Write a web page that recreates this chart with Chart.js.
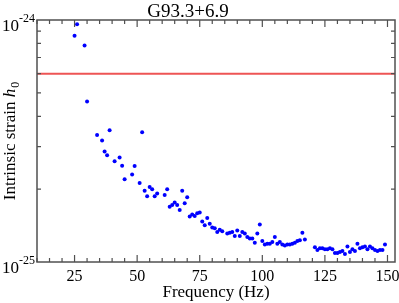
<!DOCTYPE html>
<html>
<head>
<meta charset="utf-8">
<script src="https://cdn.jsdelivr.net/npm/chart.js@4/dist/chart.umd.min.js"></script>
<style>
  html, body { margin: 0; padding: 0; background: #fff; }
  canvas { display: block; }
</style>
</head>
<body>
<canvas id="chart" width="399" height="303"></canvas>
<script>
// Frequencies (Hz) of the search bands
const freqs = [
  25, 26, 29, 30, 34, 36, 37, 38, 39, 41, 43, 44, 45, 48, 49, 51, 52, 53, 54, 55,
  56, 57, 58, 61, 62, 63, 64, 65, 66, 67, 68, 69, 70, 71, 72, 73, 74, 75, 76, 77,
  78, 79, 80, 81, 82, 83, 84, 86, 87, 88, 89, 90, 91, 92, 93, 94, 95, 96, 97, 98,
  99, 100, 101, 102, 103, 104, 105, 106, 107, 108, 109, 110, 111, 112, 113, 114, 115, 116, 117, 121,
  122, 123, 124, 125, 126, 127, 128, 129, 130, 131, 132, 133, 134, 135, 136, 137, 138, 139, 140, 141,
  142, 143, 144, 145, 146, 147, 148, 149
];

// Strain upper limits, in units of 1e-25
const strainE25 = [
  8.61, 9.60, 7.85, 4.61, 3.35, 3.18, 2.86, 2.76, 3.50, 2.61, 2.70, 2.50, 2.20, 2.30, 2.49, 2.12, 3.44, 1.97, 1.87, 2.04,
  2.00, 1.87, 1.92, 1.89, 2.00, 1.69, 1.72, 1.76, 1.72, 1.64, 1.97, 1.75, 1.85, 1.54, 1.57, 1.55, 1.59, 1.60, 1.47, 1.42,
  1.52, 1.44, 1.39, 1.38, 1.33, 1.36, 1.34, 1.31, 1.32, 1.33, 1.28, 1.35, 1.28, 1.33, 1.31, 1.27, 1.25, 1.25, 1.20, 1.31,
  1.43, 1.22, 1.18, 1.19, 1.19, 1.21, 1.27, 1.19, 1.21, 1.18, 1.17, 1.18, 1.18, 1.19, 1.20, 1.22, 1.23, 1.32, 1.24, 1.15,
  1.12, 1.14, 1.14, 1.13, 1.13, 1.14, 1.13, 1.09, 1.09, 1.10, 1.11, 1.08, 1.16, 1.10, 1.13, 1.11, 1.19, 1.14, 1.15, 1.16,
  1.13, 1.16, 1.14, 1.12, 1.11, 1.12, 1.12, 1.18
];

// Indirect (age-based) limit shown as the red line
const ageLimit = 6.0e-25;

const xMin = 10;
const xMax = 153;
const xLabelTicks = [25, 50, 75, 100, 125, 150];
const yDecades = [1e-25, 1e-24];
const yMinorTicks = [2e-25, 3e-25, 4e-25, 5e-25, 6e-25, 7e-25, 8e-25, 9e-25];

const axisColor = '#505050';
const pointColor = '#0000ff';
const lineColor = '#ee5555';
const serif = '"Liberation Serif", "Times New Roman", serif';

Chart.defaults.font.family = serif;
Chart.defaults.color = '#000';

const points = freqs.map((f, i) => ({ x: f, y: strainE25[i] * 1e-25 }));

// frame, inward ticks, y labels and titles
const framePlugin = {
  id: 'frame',
  afterDatasetsDraw(chart) {
    const { ctx, chartArea: a, scales: { x, y } } = chart;
    ctx.save();

    ctx.strokeStyle = axisColor;
    ctx.lineWidth = 1.2;
    ctx.beginPath();
    for (let v = xMin; v <= 150; v += 5) {
      const px = x.getPixelForValue(v);
      const len = xLabelTicks.includes(v) ? 7 : 4;
      ctx.moveTo(px, a.bottom); ctx.lineTo(px, a.bottom - len);
      ctx.moveTo(px, a.top); ctx.lineTo(px, a.top + len);
    }
    yMinorTicks.forEach(v => {
      const py = y.getPixelForValue(v);
      ctx.moveTo(a.left, py); ctx.lineTo(a.left + 4, py);
      ctx.moveTo(a.right, py); ctx.lineTo(a.right - 4, py);
    });
    ctx.stroke();

    ctx.lineWidth = 1.5;
    ctx.strokeRect(a.left, a.top, a.right - a.left, a.bottom - a.top);

    // y tick labels: 10^-25, 10^-24
    ctx.fillStyle = '#000';
    ctx.textBaseline = 'alphabetic';
    ctx.textAlign = 'left';
    yDecades.forEach(v => {
      const py = y.getPixelForValue(v);
      const exp = String(Math.round(Math.log10(v)));
      ctx.font = '12px ' + serif;
      const ew = ctx.measureText(exp).width;
      ctx.fillText(exp, a.left - 2 - ew, py + 2);
      ctx.font = '17px ' + serif;
      const bw = ctx.measureText('10').width;
      ctx.fillText('10', a.left - 2 - ew - bw, py + 10.5);
    });

    // chart title
    ctx.font = '19px ' + serif;
    ctx.textAlign = 'center';
    ctx.fillText('G93.3+6.9', 188, 17);

    // y axis title with italic h and subscript 0
    ctx.translate(15, 141);
    ctx.rotate(-Math.PI / 2);
    ctx.textAlign = 'left';
    const main = 'Intrinsic strain ';
    ctx.font = '17px ' + serif;
    const w1 = ctx.measureText(main).width;
    ctx.font = 'italic 17px ' + serif;
    const w2 = ctx.measureText('h').width;
    ctx.font = '12px ' + serif;
    const w3 = ctx.measureText('0').width;
    let sx = -(w1 + w2 + w3 + 1) / 2;
    ctx.font = '17px ' + serif;
    ctx.fillText(main, sx, 0);
    sx += w1;
    ctx.font = 'italic 17px ' + serif;
    ctx.fillText('h', sx, 0);
    sx += w2 + 1;
    ctx.font = '12px ' + serif;
    ctx.fillText('0', sx, 4);

    ctx.restore();
  }
};

new Chart(document.getElementById('chart'), {
  type: 'scatter',
  data: {
    datasets: [
      {
        data: [{ x: xMin, y: ageLimit }, { x: xMax, y: ageLimit }],
        showLine: true,
        borderColor: lineColor,
        borderWidth: 2,
        pointRadius: 0
      },
      {
        data: points,
        pointRadius: 2,
        pointBackgroundColor: pointColor,
        pointBorderWidth: 0
      }
    ]
  },
  options: {
    responsive: false,
    animation: false,
    events: [],
    layout: { padding: { top: 20, left: 37, right: 4, bottom: 0 } },
    plugins: {
      legend: { display: false },
      tooltip: { enabled: false }
    },
    scales: {
      x: {
        type: 'linear',
        min: xMin,
        max: xMax,
        afterBuildTicks: s => {
          const t = [];
          for (let v = xMin; v <= 150; v += 5) t.push({ value: v });
          s.ticks = t;
        },
        afterFit: s => { s.height = 41; },
        grid: { display: false },
        border: { display: false },
        ticks: {
          autoSkip: false,
          maxRotation: 0,
          padding: -3,
          color: '#000',
          font: { size: 16 },
          callback: v => xLabelTicks.includes(v) ? String(v) : ''
        },
        title: {
          display: true,
          text: 'Frequency (Hz)',
          color: '#000',
          font: { size: 17 },
          padding: { top: 0, bottom: 0 }
        }
      },
      y: {
        type: 'logarithmic',
        display: false,
        min: 1e-25,
        max: 1e-24
      }
    }
  },
  plugins: [framePlugin]
});
</script>
</body>
</html>
